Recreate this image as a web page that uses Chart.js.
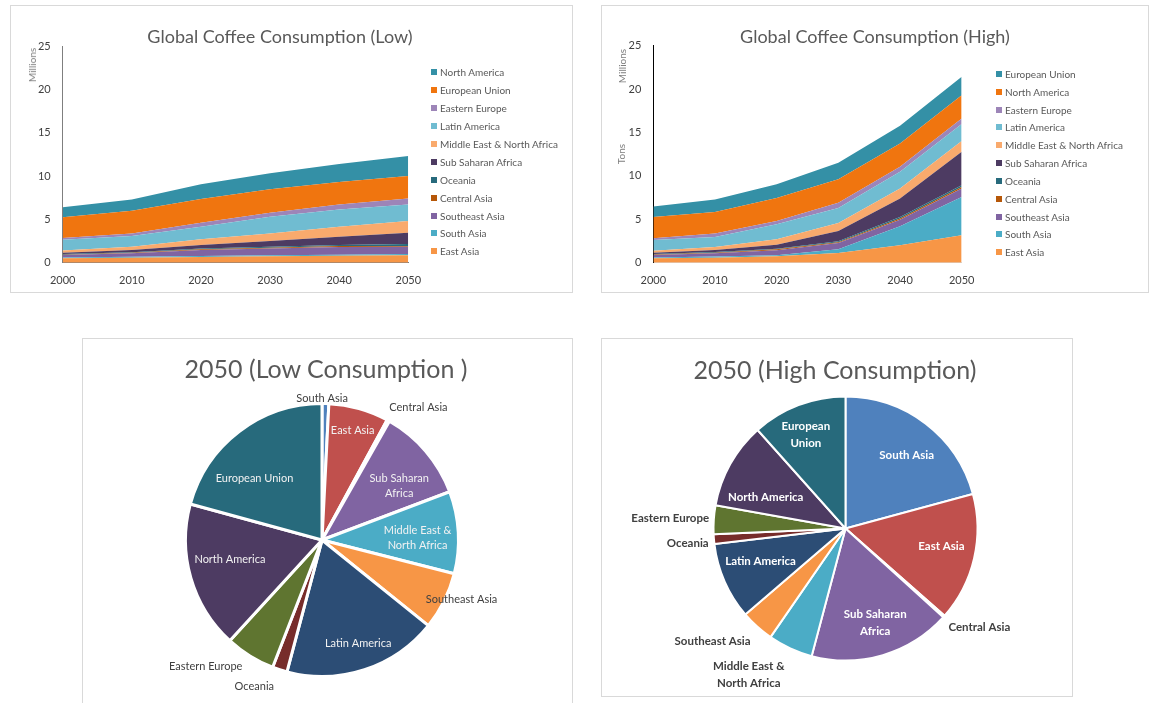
<!DOCTYPE html>
<html>
<head>
<meta charset="utf-8">
<title>Global Coffee Consumption</title>
<script src="https://cdn.jsdelivr.net/npm/chart.js@4.4.0/dist/chart.umd.min.js"></script>
<style>
  body { margin: 0; background: #fff; font-family: Lato, "Liberation Sans", sans-serif; overflow: hidden; }
  .frame { position: absolute; border: 1px solid #d9d9d9; box-sizing: border-box; }
  .box { position: absolute; }
  .title { position: absolute; white-space: nowrap; color: #595959; transform: translate(-50%, -50%); }
  .axis-title { position: absolute; white-space: nowrap; font-size: 10px; color: #7f7f7f; transform: translate(-50%, -50%) rotate(-90deg); }
  .legend { position: absolute; font-size: 10px; color: #595959; }
  .legend .row { position: absolute; left: 0; display: flex; align-items: center; white-space: nowrap; }
  .legend .sw { width: 6px; height: 6px; margin-right: 3px; }
</style>
</head>
<body>

<div class="frame" style="left:10px;top:5px;width:563px;height:288px"></div>
<div class="frame" style="left:601px;top:5px;width:548px;height:288px"></div>
<div class="frame" style="left:82px;top:338px;width:491px;height:380px"></div>
<div class="frame" style="left:601px;top:338px;width:472px;height:359px"></div>

<div class="box" style="left:10px;top:5px;width:562px;height:287px"><canvas id="lowArea"></canvas></div>
<div class="box" style="left:601px;top:5px;width:548px;height:287px"><canvas id="highArea"></canvas></div>
<div class="box" style="left:82px;top:338px;width:490px;height:365px"><canvas id="lowPie"></canvas></div>
<div class="box" style="left:601px;top:338px;width:471px;height:358px"><canvas id="highPie"></canvas></div>

<div class="title" style="left:280px;top:36px;font-size:18px">Global Coffee Consumption (Low)</div>
<div class="title" style="left:875px;top:36px;font-size:18px">Global Coffee Consumption (High)</div>
<div class="title" style="left:326px;top:368px;font-size:25px">2050 (Low Consumption )</div>
<div class="title" style="left:835px;top:369px;font-size:25px">2050 (High Consumption)</div>

<div class="axis-title" style="left:32px;top:65px">Millions</div>
<div class="axis-title" style="left:622px;top:66px">Millions</div>
<div class="axis-title" style="left:621px;top:154px">Tons</div>

<div class="legend" id="lowLegend" style="left:431px;top:72px"></div>
<div class="legend" id="highLegend" style="left:996px;top:74px"></div>

<script>
// years on the x axis
const years = ["2000", "2010", "2020", "2030", "2040", "2050"];

// stacked area series, bottom to top (millions)
const lowRegions = ["East Asia", "South Asia", "Southeast Asia", "Central Asia", "Oceania",
  "Sub Saharan Africa", "Middle East & North Africa", "Latin America", "Eastern Europe",
  "European Union", "North America"];
const highRegions = ["East Asia", "South Asia", "Southeast Asia", "Central Asia", "Oceania",
  "Sub Saharan Africa", "Middle East & North Africa", "Latin America", "Eastern Europe",
  "North America", "European Union"];

const lowEastAsia   = [0.50, 0.58, 0.65, 0.73, 0.80, 0.85];
const lowSouthAsia  = [0.10, 0.12, 0.12, 0.12, 0.12, 0.15];
const lowSEAsia     = [0.30, 0.40, 0.70, 0.80, 0.88, 0.85];
const lowCentral    = [0.03, 0.04, 0.08, 0.08, 0.12, 0.07];
const lowOceania    = [0.07, 0.08, 0.10, 0.12, 0.12, 0.23];
const lowSubSahara  = [0.15, 0.25, 0.40, 0.65, 0.96, 1.31];
const lowMENA       = [0.25, 0.38, 0.65, 0.88, 1.15, 1.34];
const lowLatin      = [1.25, 1.23, 1.45, 1.92, 2.00, 1.90];
const lowEastEurope = [0.20, 0.30, 0.45, 0.47, 0.55, 0.70];
const lowEU         = [2.40, 2.60, 2.75, 2.70, 2.60, 2.60];
const lowNorthAm    = [1.15, 1.32, 1.70, 1.85, 2.08, 2.30];

const highEastAsia   = [0.50, 0.58, 0.73, 1.12, 2.00, 3.15];
const highSouthAsia  = [0.10, 0.12, 0.12, 0.42, 2.20, 4.43];
const highSEAsia     = [0.30, 0.40, 0.57, 0.73, 0.76, 0.96];
const highCentral    = [0.03, 0.04, 0.12, 0.08, 0.14, 0.19];
const highOceania    = [0.07, 0.08, 0.06, 0.11, 0.17, 0.19];
const highSubSahara  = [0.15, 0.25, 0.48, 1.19, 2.11, 3.85];
const highMENA       = [0.22, 0.33, 0.62, 0.93, 1.16, 1.23];
const highLatin      = [1.25, 1.16, 1.72, 1.72, 1.92, 1.96];
const highEastEurope = [0.20, 0.39, 0.38, 0.60, 0.58, 0.64];
const highNorthAm    = [2.45, 2.50, 2.66, 2.70, 2.69, 2.67];
const highEU         = [1.20, 1.42, 1.58, 1.90, 2.04, 2.15];

// 2050 shares (%) for the pies
const pieRegions = ["South Asia", "East Asia", "Central Asia", "Sub Saharan Africa",
  "Middle East & North Africa", "Southeast Asia", "Latin America", "Oceania",
  "Eastern Europe", "North America", "European Union"];
const lowShare2050  = [0.8, 7.1, 0.3, 11.0, 9.7, 6.8, 18.3, 1.75, 5.9, 17.4, 20.7];
const highShare2050 = [20.8, 15.7, 0.25, 17.4, 5.5, 4.1, 9.4, 1.2, 3.5, 10.6, 11.6];

const yTicks = [0, 5, 10, 15, 20, 25];

// colours
const areaColors = ["#F79646", "#4BACC6", "#8064A2", "#B65708", "#276A7C", "#4D3B62",
  "#F9AA6D", "#70BCD1", "#9D85B8", "#F0750F", "#3490A6"];
const pieColors = ["#4F81BD", "#C0504D", "#9BBB59", "#8064A2", "#4BACC6", "#F79646",
  "#2C4D75", "#772C2A", "#5F7530", "#4D3B62", "#276A7C"];

const tickFont = { family: "Lato", size: 11 };

function areaChart(id, names, series, opts) {
  const datasets = series.map((data, i) => ({
    label: names[i],
    data,
    backgroundColor: areaColors[i],
    borderColor: areaColors[i],
    borderWidth: 0,
    pointRadius: 0,
    tension: 0,
    fill: i === 0 ? "origin" : "-1",
  }));

  return new Chart(document.getElementById(id), {
    type: "line",
    data: { labels: years, datasets },
    options: {
      responsive: true,
      maintainAspectRatio: false,
      animation: false,
      events: [],
      layout: { padding: { top: opts.top, right: opts.right, bottom: 0, left: 0 } },
      plugins: { legend: { display: false }, tooltip: { enabled: false } },
      scales: {
        x: {
          grid: { display: false, drawTicks: false },
          border: { color: opts.xLine },
          ticks: { padding: 11, color: "#404040", font: tickFont, maxRotation: 0 },
          afterFit: (s) => { s.height = 29.3; },
        },
        y: {
          stacked: true,
          min: 0,
          max: 25,
          afterBuildTicks: (s) => { s.ticks = yTicks.map((v) => ({ value: v })); },
          grid: { display: false, drawTicks: false },
          border: { color: opts.yLine },
          ticks: { padding: 12, color: "#404040", font: tickFont },
          afterFit: (s) => { s.width = opts.axisX; },
        },
      },
    },
  });
}

function buildLegend(el, chart, step) {
  const sets = chart.data.datasets.slice().reverse();
  sets.forEach((ds, i) => {
    const row = document.createElement("div");
    row.className = "row";
    row.style.top = (i * step - step / 2) + "px";
    row.style.height = step + "px";
    row.innerHTML = '<span class="sw" style="background:' + ds.backgroundColor + '"></span>' + ds.label.replace("&", "&amp;");
    el.appendChild(row);
  });
}

// labels drawn next to / inside the pie slices
function sliceLabels(place, style) {
  return {
    id: "sliceLabels",
    afterDatasetsDraw(chart) {
      const ctx = chart.ctx;
      const arcs = chart.getDatasetMeta(0).data;
      ctx.save();
      ctx.textAlign = "center";
      ctx.textBaseline = "middle";
      ctx.font = style.font;
      arcs.forEach((arc, i) => {
        const p = place[i];
        const a = (arc.startAngle + arc.endAngle) / 2 + p.shift * Math.PI / 180;
        const r = arc.outerRadius * p.k;
        const x = arc.x + Math.cos(a) * r;
        const y = arc.y + Math.sin(a) * r;
        ctx.fillStyle = p.inside ? style.inside : style.outside;
        const lines = p.text.split("\n");
        lines.forEach((ln, j) => {
          ctx.fillText(ln, x, y + (j - (lines.length - 1) / 2) * style.lineHeight);
        });
      });
      ctx.restore();
    },
  };
}

function pieChart(id, shares, border, padding, place, style) {
  return new Chart(document.getElementById(id), {
    type: "pie",
    data: {
      labels: pieRegions,
      datasets: [{
        data: shares,
        backgroundColor: pieColors,
        borderColor: "#ffffff",
        borderWidth: border,
        hoverOffset: 0,
      }],
    },
    options: {
      responsive: true,
      maintainAspectRatio: false,
      animation: false,
      events: [],
      layout: { padding },
      plugins: { legend: { display: false }, tooltip: { enabled: false } },
    },
    plugins: [sliceLabels(place, style)],
  });
}

const lowChart = areaChart("lowArea", lowRegions,
  [lowEastAsia, lowSouthAsia, lowSEAsia, lowCentral, lowOceania, lowSubSahara,
   lowMENA, lowLatin, lowEastEurope, lowEU, lowNorthAm],
  { top: 41, right: 163.7, axisX: 52.7, xLine: "#7f7f7f", yLine: "#7f7f7f" });

const highChart = areaChart("highArea", highRegions,
  [highEastAsia, highSouthAsia, highSEAsia, highCentral, highOceania, highSubSahara,
   highMENA, highLatin, highEastEurope, highNorthAm, highEU],
  { top: 40.6, right: 187.3, axisX: 52.3, xLine: "#d9d9d9", yLine: "#000000" });

buildLegend(document.getElementById("lowLegend"), lowChart, 17.94);
buildLegend(document.getElementById("highLegend"), highChart, 17.83);

pieChart("lowPie", lowShare2050, 3,
  { left: 102, top: 64, right: 112, bottom: 25 },
  [
    { text: "South Asia", k: 1.04, shift: -1.4, inside: false },
    { text: "East Asia", k: 0.83, shift: 0, inside: true },
    { text: "Central Asia", k: 1.2, shift: 7, inside: false },
    { text: "Sub Saharan\nAfrica", k: 0.69, shift: 5.6, inside: true },
    { text: "Middle East &\nNorth Africa", k: 0.7, shift: 2.2, inside: true },
    { text: "Southeast Asia", k: 1.11, shift: -3.6, inside: false },
    { text: "Latin America", k: 0.8, shift: -1.2, inside: true },
    { text: "Oceania", k: 1.18, shift: 6.8, inside: false },
    { text: "Eastern Europe", k: 1.26, shift: 10.7, inside: false },
    { text: "North America", k: 0.69, shift: 4, inside: true },
    { text: "European Union", k: 0.67, shift: -10.2, inside: true },
  ],
  { font: "11px Lato", inside: "#f2f2f2", outside: "#404040", lineHeight: 15 });

pieChart("highPie", highShare2050, 2,
  { left: 111.5, top: 57.5, right: 93.5, bottom: 34.5 },
  [
    { text: "South Asia", k: 0.72, shift: 2.6, inside: true },
    { text: "East Asia", k: 0.74, shift: -2.3, inside: true },
    { text: "Central Asia", k: 1.26, shift: -5.4, inside: false },
    { text: "Sub Saharan\nAfrica", k: 0.75, shift: -1, inside: true },
    { text: "Middle East &\nNorth Africa", k: 1.33, shift: 8.7, inside: false },
    { text: "Southeast Asia", k: 1.32, shift: 7.7, inside: false },
    { text: "Latin America", k: 0.69, shift: 2.5, inside: true },
    { text: "Oceania", k: 1.2, shift: -0.6, inside: false },
    { text: "Eastern Europe", k: 1.33, shift: -0.6, inside: false },
    { text: "North America", k: 0.65, shift: -7.6, inside: true },
    { text: "European\nUnion", k: 0.77, shift: -2.1, inside: true },
  ],
  { font: "bold 11.5px Lato", inside: "#ffffff", outside: "#404040", lineHeight: 16.5 });
</script>
</body>
</html>
